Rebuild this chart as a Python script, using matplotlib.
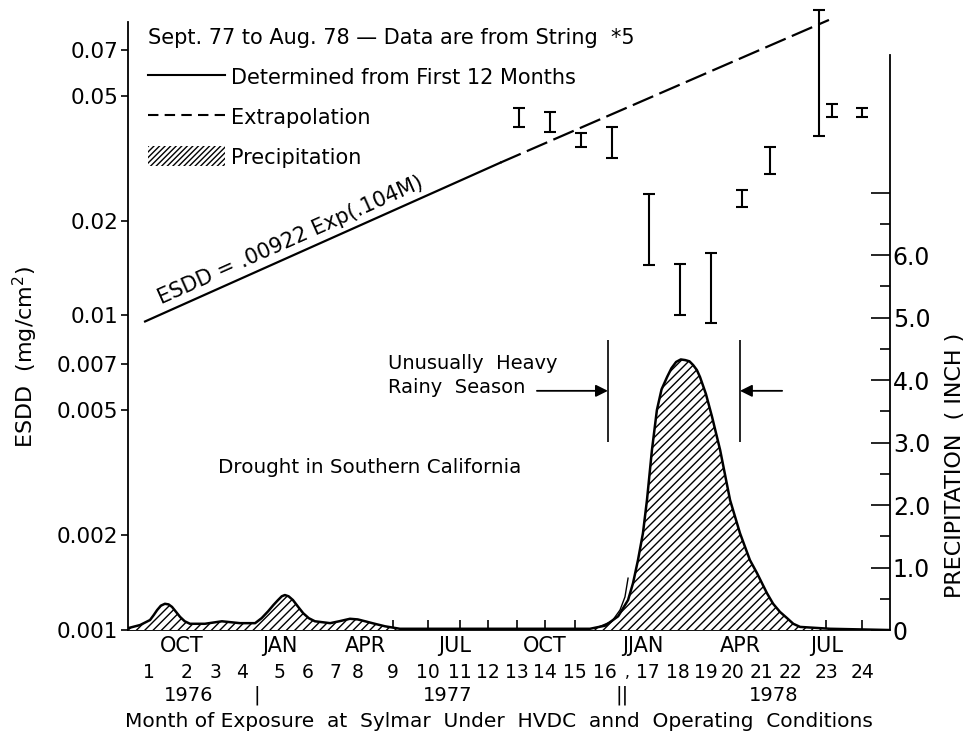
import matplotlib
matplotlib.use("Agg")
import matplotlib.pyplot as plt
from matplotlib.lines import Line2D
from matplotlib.patches import Patch
from matplotlib.ticker import NullLocator
import numpy as np

# --- data (x in month units) ---
month_nums = [str(i) for i in range(1, 25)]
month_pos = [0.97, 2.19, 3.10, 3.97, 5.19, 6.10, 6.97, 7.71, 8.84, 9.97, 11.0, 11.9,
             12.84, 13.74, 14.71, 15.68, 17.06, 18.03, 18.93, 19.80, 20.72, 21.65, 22.81, 23.97]
season_names = ["OCT", "JAN", "APR", "JUL", "OCT", "JJAN", "APR", "JUL"]
season_pos = [2.03, 5.19, 7.94, 10.84, 13.74, 16.90, 20.03, 22.84]
year_names = ["1976", "|", "1977", "||", "1978"]
year_pos = [2.23, 4.45, 10.61, 16.23, 21.10]
xtick_pos = [8.84, 9.97, 11.0, 11.9, 12.84, 13.74, 14.71, 22.81, 23.97]

esdd_ticks = [0.001, 0.002, 0.005, 0.007, 0.01, 0.02, 0.05, 0.07]
esdd_ticklabels = ["0.001", "0.002", "0.005", "0.007", "0.01", "0.02", "0.05", "0.07"]

# measured ESDD ranges, Sept 77 - Aug 78 (string #5)
err_x = [12.9, 13.9, 14.9, 15.9, 17.1, 18.1, 19.1, 20.1, 21.0, 22.58, 23.0, 23.97]
err_lo = [0.0396, 0.0384, 0.0342, 0.0317, 0.01445, 0.01007, 0.00943, 0.02213, 0.0282, 0.0373, 0.0429, 0.0426]
err_hi = [0.0458, 0.0442, 0.0379, 0.0396, 0.0244, 0.01455, 0.01578, 0.02508, 0.0344, 0.0936, 0.0469, 0.0455]

# fitted line ESDD = .00922 exp(.104M): solid (first 12 months) + extrapolation
fit_x = [0.84, 12.3]
fit_y = [0.00957, 0.0306]
extrap_x = [12.3, 22.9]
extrap_y = [0.0306, 0.087]

# precipitation (inch)
precip_m = [0.29, 0.68, 1.0, 1.12, 1.23, 1.35, 1.48, 1.60, 1.71, 1.84, 1.97, 2.12, 2.29, 2.77,
            3.32, 3.90, 4.39, 4.60, 4.81, 4.98, 5.13, 5.25, 5.35, 5.47, 5.61, 5.78, 5.94,
            6.12, 6.32, 6.81, 7.10, 7.45, 7.70, 7.94, 8.25, 8.58, 9.06, 12.0, 15.19, 15.68,
            16.10, 16.42, 16.58, 16.74, 16.90, 17.03, 17.19, 17.35, 17.50, 17.68, 17.82,
            17.97, 18.12, 18.26, 18.40, 18.52, 18.64, 18.74, 18.93, 19.13, 19.39, 19.71,
            20.03, 20.35, 20.58, 20.90, 21.10, 21.32, 21.55, 21.75, 21.97, 22.94, 24.87]
precip_in = [0.03, 0.08, 0.16, 0.24, 0.32, 0.39, 0.42, 0.41, 0.37, 0.29, 0.21, 0.14, 0.10, 0.10,
             0.14, 0.11, 0.11, 0.19, 0.30, 0.40, 0.48, 0.54, 0.56, 0.54, 0.48, 0.37, 0.27,
             0.19, 0.14, 0.11, 0.14, 0.18, 0.17, 0.14, 0.10, 0.06, 0.02, 0.02, 0.02, 0.07,
             0.22, 0.48, 0.75, 1.12, 1.55, 2.08, 2.88, 3.52, 3.85, 4.05, 4.19,
             4.29, 4.33, 4.32, 4.30, 4.24, 4.16, 4.05, 3.78, 3.41, 2.88, 2.08,
             1.55, 1.12, 0.91, 0.59, 0.42, 0.29, 0.19, 0.10, 0.05, 0.02, 0.0]
thin_m = [15.52, 15.90, 16.16, 16.32, 16.42]
thin_in = [0.06, 0.14, 0.32, 0.53, 0.83]

plt.rcParams["font.family"] = "DejaVu Sans"
plt.rcParams["font.size"] = 14
plt.rcParams["hatch.linewidth"] = 1.0

fig = plt.figure(figsize=(9.69, 7.40), dpi=100)
ax = fig.add_axes([0.1321, 0.1486, 0.7864, 0.8217])
ax.set_yscale("log")
ax.set_xlim(0.29, 24.87)
ax.set_ylim(0.001, 0.0857)

for s in ["top", "right"]:
    ax.spines[s].set_visible(False)
ax.spines["left"].set_linewidth(1.3)
ax.spines["bottom"].set_linewidth(1.3)

ax.set_yticks(esdd_ticks)
ax.set_yticklabels(esdd_ticklabels)
ax.yaxis.set_minor_locator(NullLocator())
ax.tick_params(axis="y", direction="out", length=5, width=1.2, pad=2, labelsize=15.5)
ax.set_xticks(xtick_pos)
ax.set_xticklabels([])
ax.tick_params(axis="x", direction="in", length=7, width=1.2)
ax.set_ylabel("ESDD  (mg/cm$^2$)", fontsize=16)
ax.yaxis.set_label_coords(-0.115, 0.449)

# x labels, three rows plus title
tr = ax.get_xaxis_transform()
for name, x in zip(season_names, season_pos):
    ax.text(x, -0.026, name, transform=tr, ha="center", va="center", fontsize=15)
for name, x in zip(month_nums, month_pos):
    ax.text(x, -0.070, name, transform=tr, ha="center", va="center", fontsize=13.5)
ax.text(16.39, -0.070, ",", transform=tr, ha="center", va="center", fontsize=11)
for name, x in zip(year_names, year_pos):
    ax.text(x, -0.107, name, transform=tr, ha="center", va="center", fontsize=14)
ax.text(12.25, -0.151, "Month of Exposure  at  Sylmar  Under  HVDC  annd  Operating  Conditions",
        transform=tr, ha="center", va="center", fontsize=14.5)

# trend line
ax.plot(fit_x, fit_y, color="k", lw=1.6, clip_on=False)
ax.plot(extrap_x, extrap_y, color="k", lw=1.6, ls=(0, (10, 3)), clip_on=False)
ax.text(1.42, 0.0106, "ESDD = .00922 Exp(.104M)", rotation=24, rotation_mode="anchor",
        ha="left", va="bottom", fontsize=15)

# measurements
err_mid = np.sqrt(np.array(err_lo) * np.array(err_hi))
ax.errorbar(err_x, err_mid, yerr=[err_mid - np.array(err_lo), np.array(err_hi) - err_mid],
            fmt="none", ecolor="k", elinewidth=1.5, capsize=4, capthick=1.5, clip_on=False)

# rainy season markers
ax.vlines([15.77, 20.03], 0.00396, 0.00838, color="k", lw=1.2)
ax.annotate("", xy=(15.77, 0.00576), xytext=(13.48, 0.00576),
            arrowprops=dict(arrowstyle="-|>", color="k", lw=1.3, mutation_scale=18, shrinkA=0, shrinkB=0))
ax.annotate("", xy=(20.03, 0.00576), xytext=(21.39, 0.00576),
            arrowprops=dict(arrowstyle="-|>", color="k", lw=1.3, mutation_scale=18, shrinkA=0, shrinkB=0))
ax.text(8.68, 0.00645, "Unusually  Heavy\nRainy  Season", ha="left", va="center",
        fontsize=14, linespacing=1.3)
ax.text(3.19, 0.00329, "Drought in Southern California", ha="left", va="center", fontsize=14.3)

# precipitation on the right axis
ax2 = ax.twinx()
ax2.set_ylim(0, 9.73)
for s in ["top", "left", "bottom"]:
    ax2.spines[s].set_visible(False)
ax2.spines["right"].set_bounds(0, 9.2)
ax2.spines["right"].set_linewidth(1.3)
ax2.fill_between(precip_m, 0, precip_in, facecolor="white", edgecolor="k",
                 hatch="////", linewidth=0)
ax2.plot(precip_m, precip_in, color="k", lw=1.8)
ax2.plot(thin_m, thin_in, color="k", lw=1.0)
ax2.set_yticks(np.arange(0, 7.5, 1.0))
ax2.set_yticklabels(["0", "1.0", "2.0", "3.0", "4.0", "5.0", "6.0", ""])
ax2.set_yticks(np.arange(0.5, 7.0, 1.0), minor=True)
ax2.tick_params(axis="y", which="major", direction="in", length=14, width=1.2, pad=2, labelsize=17)
ax2.tick_params(axis="y", which="minor", direction="in", length=7, width=1.2)
ax2.set_ylabel("PRECIPITATION  ( INCH )", fontsize=16)
ax2.yaxis.set_label_coords(1.072, 0.271)

# legend
handles = [Line2D([], [], color="k", lw=1.5),
           Line2D([], [], color="k", lw=1.5, ls=(0, (5, 3))),
           Patch(facecolor="white", edgecolor="k", hatch="//////", linewidth=0)]
labels = ["Determined from First 12 Months", "Extrapolation", "Precipitation"]
leg = ax2.legend(handles, labels, title="Sept. 77 to Aug. 78 \u2014 Data are from String  *5",
                 loc="upper left", bbox_to_anchor=(0.026, 0.99), frameon=False,
                 handlelength=3.7, handleheight=1.1, handletextpad=0.3, labelspacing=0.9,
                 borderpad=0, borderaxespad=0, alignment="left", fontsize=15, title_fontsize=15)

fig.savefig("out.png", dpi=100)
